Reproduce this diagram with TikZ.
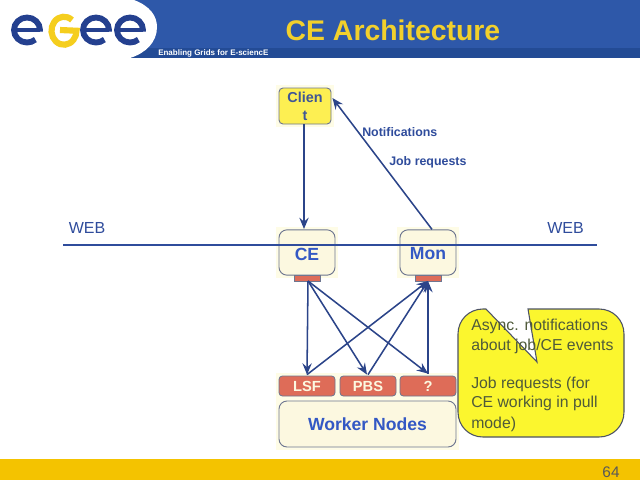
\documentclass[tikz,border=0pt]{standalone}
\usepackage{fontspec}
\setmainfont{Liberation Sans}
\usetikzlibrary{arrows.meta,calc}
\definecolor{hdrblue}{HTML}{2E58A9}
\definecolor{hdrdark}{HTML}{234B95}
\definecolor{logoblue}{HTML}{24408F}
\definecolor{logogold}{HTML}{F5CE1E}
\definecolor{titlegold}{HTML}{F2D02C}
\definecolor{barblue}{HTML}{2F4C9C}
\definecolor{arrowblue}{HTML}{2B4489}
\definecolor{lblblue}{HTML}{3358C4}
\definecolor{cream}{HTML}{FCF8E0}
\definecolor{glow}{HTML}{FEFCE6}
\definecolor{boxedge}{HTML}{6E7690}
\definecolor{tabred}{HTML}{DE6C58}
\definecolor{clientfill}{HTML}{FDEF52}
\definecolor{noteyellow}{HTML}{FBF62E}
\definecolor{notetext}{HTML}{4F5A3A}
\definecolor{footgold}{HTML}{F4C300}
\tikzset{
  x=0.75pt,y=-0.75pt,
  softbox/.style={draw=boxedge,line width=0.7pt,fill=cream,rounded corners=6pt,inner sep=0pt,
    text=lblblue,font=\fontsize{13.2}{15}\selectfont\bfseries,align=center},
  clientbox/.style={softbox,fill=clientfill,rounded corners=3pt,text=barblue!80!gray,
    font=\fontsize{10.8}{13.5}\selectfont\bfseries,minimum width=39pt,minimum height=27pt},
  hostbox/.style={softbox,minimum width=42pt,minimum height=34pt},
  hostlabel/.style={text=lblblue,font=\fontsize{13.2}{15}\selectfont\bfseries,inner sep=0pt},
  tabbox/.style={draw=boxedge,line width=0.4pt,fill=tabred,minimum width=19.5pt,minimum height=4.5pt,inner sep=0pt},
  lrmsbox/.style={draw=boxedge,line width=0.6pt,fill=tabred,rounded corners=2.5pt,minimum width=42pt,minimum height=15pt,
    inner sep=0pt,text=cream,font=\fontsize{11}{12}\selectfont\bfseries},
  flow/.style={draw=arrowblue,line width=1.15pt,-{Stealth[length=8.5pt,width=7pt,inset=3pt]}},
  webtext/.style={text=barblue,font=\fontsize{12}{14}\selectfont},
  flowtext/.style={text=barblue,font=\fontsize{9.3}{11}\selectfont\bfseries,inner sep=0pt,anchor=west},
  logostroke/.style={line width=4.4pt,draw=logoblue},
}
% one blue lower-case e of the logo, centred on the given point
\newcommand{\eglyph}[2]{%
  \draw[line width=3pt,draw=logoblue] (#1-13,#2) -- (#1+13,#2);
  \draw[logostroke] (#1+13,#2+1.5) -- (#1+13,#2) arc (0:-180:13 and 12.5)
     arc (-180:-310:13 and 12.5);}
\begin{document}
\begin{tikzpicture}
\useasboundingbox (0,0) rectangle (640,480);
\fill[white] (0,0) rectangle (640,480);

% header band and logo
\fill[hdrblue] (120,0) rectangle (640,58);
\fill[hdrdark] (120,48) rectangle (640,58);
\fill[white] (0,0) -- (134,0) .. controls (150,6) and (157,16) .. (157,27)
   .. controls (157,42) and (146,53) .. (130,58) -- (0,58) -- cycle;
\eglyph{27}{30}
\eglyph{96}{30}
\eglyph{130}{30}
\draw[line width=4.6pt,draw=logogold] (72,20) arc (-50:-360:12.5 and 14) -- (60,30);
\node[text=white,font=\fontsize{6}{7}\selectfont\bfseries,inner sep=0pt,anchor=west] (tagline) at (158,53) {Enabling Grids for E-sciencE};
\node[text=titlegold,font=\fontsize{21.3}{25}\selectfont\bfseries,inner sep=0pt] (title) at (393,30) {CE Architecture};

% footer
\fill[footgold] (0,459) rectangle (640,480);
\node[text=black!65,font=\fontsize{11.5}{13}\selectfont,inner sep=0pt] (pagenum) at (611,472) {64};

% soft halo behind the service boxes
\fill[glow] (276,85) rectangle (334,127);
\fill[glow] (276,227) rectangle (338,278);
\fill[glow] (397,227) rectangle (459,278);
\fill[glow] (276,373) rectangle (459,450);

% service boxes
\node[clientbox] (client) at (305,106) {Clien\\t};
\node[hostbox] (ce) at (307,252.5) {};
\node[hostbox] (mon) at (428,252.5) {};
\node[tabbox] (cetab) at (307,278) {};
\node[tabbox] (montab) at (428,278) {};
\node[lrmsbox] (lsf) at (307,386) {LSF};
\node[lrmsbox] (pbs) at (368,386) {PBS};
\node[lrmsbox] (other) at (428,386) {?};
\node[softbox,minimum width=132.75pt,minimum height=34.5pt] (workers) at (367.5,424) {Worker Nodes};

% network boundary
\coordinate (webl) at (63,245);
\coordinate (webr) at (597,245);
\draw[draw=barblue,line width=1pt] (webl) -- (webr);
\node[webtext] (webleft) at (87,228) {WEB};
\node[webtext] (webright) at (565.5,228) {WEB};
\node[hostlabel] (celabel) at (307,254) {CE};
\node[hostlabel] (monlabel) at (428,254) {Mon};

% message flows
\node[flowtext] (notif) at (362,132) {Notifications};
\node[flowtext] (jobs) at (389,162) {Job requests};
\draw[flow] (client.south -| 304,0) -- (304,229);
\draw[flow] ($(mon.north)+(4,0)$) -- ($(client.east)+(1,-8)$);
\coordinate (cefoot) at (308,281);
\coordinate (monfoot) at (428,281);
\draw[flow] (cefoot) -- ($(lsf.north)+(0,-1)$);
\draw[flow] (cefoot) -- ($(pbs.north)+(-1,-1)$);
\draw[flow] (cefoot) -- ($(other.north)+(0,-2)$);
\draw[flow] ($(lsf.north)+(0,-1)$) -- (monfoot);
\draw[flow] ($(pbs.north)+(0,-1)$) -- (monfoot);
\draw[flow] ($(other.north)+(0,-2)$) -- (monfoot);

% speech balloon with its notch cut into the top edge
\filldraw[draw=boxedge!70!black,line width=0.8pt,fill=noteyellow,rounded corners=0pt]
  (528,309) -- (537,362) -- (486,309) -- (483,309)
  .. controls (469,309) and (458,320) .. (458,334) -- (458,412)
  .. controls (458,426) and (469,437) .. (483,437) -- (599,437)
  .. controls (613,437) and (624,426) .. (624,412) -- (624,334)
  .. controls (624,320) and (613,309) .. (599,309) -- cycle;
\begin{scope}[every node/.style={text=notetext,font=\fontsize{11.85}{14}\selectfont,inner sep=0pt,anchor=west}]
  \node (n1) at (471,326) {Async. notifications};
  \node (n2) at (471,346) {about job/CE events};
  \node (n3) at (471,384) {Job requests (for};
  \node (n4) at (471,403) {CE working in pull};
  \node (n5) at (471,424) {mode)};
\end{scope}
\end{tikzpicture}
\end{document}
